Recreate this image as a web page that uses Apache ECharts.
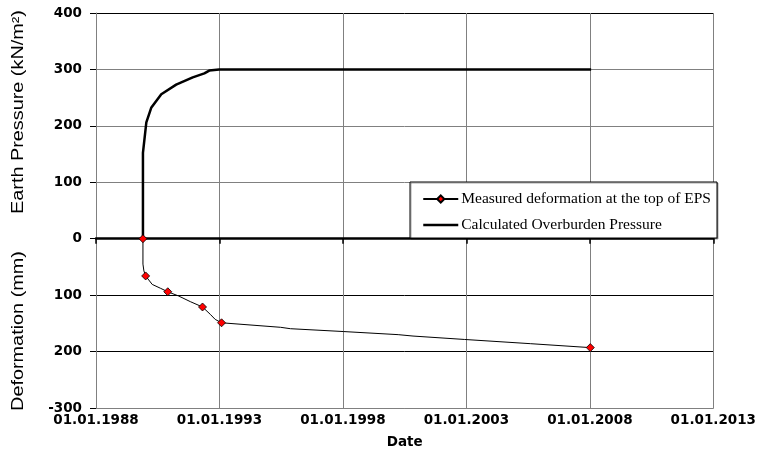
<!DOCTYPE html>
<html>
<head>
<meta charset="utf-8">
<title>EPS deformation and overburden pressure</title>
<script src="https://cdn.jsdelivr.net/npm/echarts@6/dist/echarts.min.js"></script>
<style>
  html, body { margin: 0; padding: 0; background: #fff; }
  #chart { width: 759px; height: 454px; }
</style>
</head>
<body>
<div id="chart"></div>
<script>
// Settlement readings at the top of the EPS fill (mm, downward positive)
const deformDates = ['1989-11-26', '1989-11-26', '1989-12-10', '1990-01-05', '1990-04-12', '1990-08-15',
  '1990-11-28', '1991-05-07', '1991-10-27', '1992-04-25', '1992-08-18', '1992-10-30', '1993-02-01',
  '1995-06-24', '1995-11-17', '1998-01-08', '2000-03-28', '2000-11-03', '2002-12-01', '2005-08-04',
  '2008-01-08'];
const deformMm = [0, 45, 57, 66, 81, 88, 94, 101.5, 111.5, 121, 134, 143, 149,
  157, 159.5, 164.5, 170, 172.5, 178.5, 186, 193];
// true where the value is a survey reading (drawn with a marker)
const isReading = [true, false, false, true, false, false, true, false, false, true, false, false, true,
  false, false, false, false, false, false, false, true];

// Calculated overburden pressure on the EPS (kN/m2)
const pressureDates = ['1989-11-26', '1989-11-26', '1990-01-15', '1990-03-28', '1990-08-24',
  '1991-04-01', '1991-12-02', '1992-05-22', '1992-08-03', '1992-12-28', '2008-01-20'];
const pressureKpa = [0, 152, 206, 232, 256, 273, 286, 293, 298, 300, 300];

// Axis ticks
const yearTicks = [1988, 1993, 1998, 2003, 2008, 2013];
const yTicks = [-300, -200, -100, 0, 100, 200, 300, 400];

const seriesNames = ['Measured deformation at the top of EPS', 'Calculated Overburden Pressure'];

// date string -> fractional year
function toYear(s) {
  const [y, m, d] = s.split('-').map(Number);
  const start = Date.UTC(y, 0, 1), end = Date.UTC(y + 1, 0, 1);
  return y + (Date.UTC(y, m - 1, d) - start) / (end - start);
}

const deformData = deformDates.map((d, i) => ({
  value: [toYear(d), -deformMm[i]],
  symbol: isReading[i] ? 'diamond' : 'none'
}));
const pressureData = pressureDates.map((d, i) => [toYear(d), pressureKpa[i]]);

const tickFont = { fontFamily: 'DejaVu Sans', fontWeight: 'bold', fontSize: 13.5, color: '#000' };
const GRAY = '#808080';

// upper half grid lines grey, lower half black (ordered from min upward)
const hLineColors = yTicks.map(v => (v === -300 || (v > 0 && v < 400)) ? GRAY : '#000');

const chart = echarts.init(document.getElementById('chart'), null, { renderer: 'canvas' });
chart.setOption({
  animation: false,
  backgroundColor: '#fff',
  grid: { left: 96, top: 13, right: 42, bottom: 45, containLabel: false },
  xAxis: [
    {
      type: 'value', position: 'bottom',
      min: yearTicks[0], max: yearTicks[yearTicks.length - 1], interval: 5,
      axisLine: { onZero: false, show: true, lineStyle: { color: GRAY, width: 1 } },
      axisTick: { show: false },
      axisLabel: Object.assign({ margin: 5, formatter: v => '01.01.' + v }, tickFont),
      splitLine: { show: true, lineStyle: { color: GRAY, width: 1 } },
      name: 'Date', nameLocation: 'middle', nameGap: 27,
      nameTextStyle: tickFont
    },
    {
      // zero line of the combined axis
      type: 'value', position: 'top',
      min: yearTicks[0], max: yearTicks[yearTicks.length - 1], interval: 5,
      axisLine: { onZero: true, onZeroAxisIndex: 0, show: true, lineStyle: { color: '#000', width: 2.5 } },
      axisTick: { show: true, inside: true, length: 5, lineStyle: { color: '#000', width: 1.5 } },
      axisLabel: { show: false },
      splitLine: { show: false }
    }
  ],
  yAxis: {
    type: 'value', min: -300, max: 400, interval: 100,
    axisLine: { show: true, lineStyle: { color: GRAY, width: 1 } },
    axisTick: { show: true, length: 6, lineStyle: { color: '#000', width: 1 } },
    axisLabel: Object.assign({
      margin: 14,
      formatter: v => (v < 0 && v > -300) ? String(-v) : String(v)
    }, tickFont),
    splitLine: { show: true, lineStyle: { color: hLineColors, width: 1 } }
  },
  legend: {
    orient: 'vertical', left: 417, top: 186,
    itemWidth: 35, itemHeight: 9, itemGap: 10,
    data: [
      { name: seriesNames[0] },
      { name: seriesNames[1], itemStyle: { opacity: 0 },
        lineStyle: { color: '#000', width: 2.5, opacity: 1 } }
    ],
    textStyle: { fontFamily: 'Liberation Serif', fontSize: 15.5, color: '#000', padding: [0, 0, 0, -2] },
    z: 10
  },
  graphic: [
    {
      type: 'rect', z: 5, shape: { x: 410, y: 182, width: 307, height: 56 },
      style: { fill: '#fff', stroke: '#000', lineWidth: 1,
        shadowColor: 'rgba(0,0,0,0.35)', shadowOffsetX: 1, shadowOffsetY: 1, shadowBlur: 0 }
    },
    {
      type: 'text', x: 19, y: 112, rotation: Math.PI / 2, scaleX: 1.24,
      style: { text: 'Earth Pressure (kN/m²)', fontFamily: 'Liberation Sans', fontSize: 16,
        fill: '#000', textAlign: 'center', textVerticalAlign: 'middle' }
    },
    {
      type: 'text', x: 19, y: 331, rotation: Math.PI / 2, scaleX: 1.24,
      style: { text: 'Deformation (mm)', fontFamily: 'Liberation Sans', fontSize: 16,
        fill: '#000', textAlign: 'center', textVerticalAlign: 'middle' }
    }
  ],
  series: [
    {
      name: seriesNames[0], type: 'line', xAxisIndex: 0,
      data: deformData,
      symbol: 'diamond', symbolSize: 8, showAllSymbol: true,
      itemStyle: { color: '#ff0000', borderColor: '#000', borderWidth: 0.8 },
      lineStyle: { color: '#000', width: 1 },
      z: 3
    },
    {
      name: seriesNames[1], type: 'line', xAxisIndex: 0,
      data: pressureData,
      symbol: 'none',
      itemStyle: { color: '#000' },
      lineStyle: { color: '#000', width: 2.5 },
      z: 3
    }
  ]
});
</script>
</body>
</html>
